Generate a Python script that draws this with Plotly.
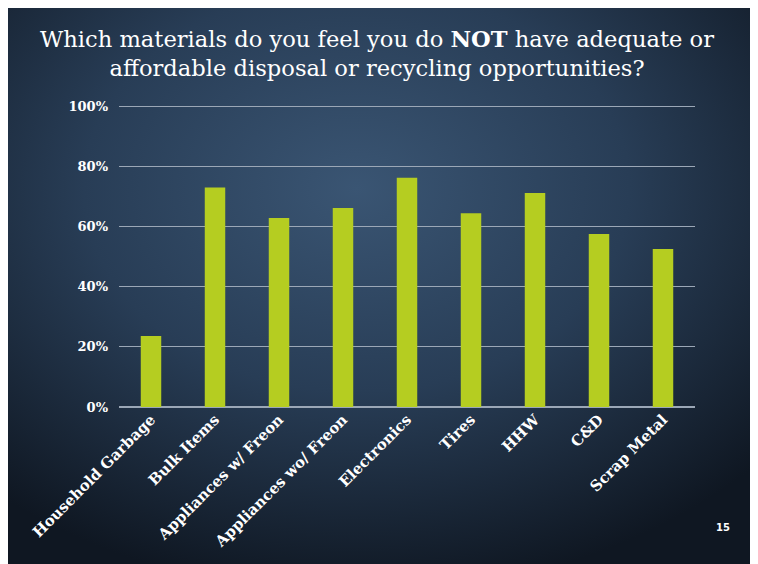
import base64
import plotly.graph_objects as go

categories = ["Household Garbage", "Bulk Items", "Appliances w/ Freon", "Appliances wo/ Freon",
              "Electronics", "Tires", "HHW", "C&D", "Scrap Metal"]
values = [0.236, 0.729, 0.628, 0.661, 0.762, 0.644, 0.711, 0.575, 0.525]
y_ticks = [0, 0.2, 0.4, 0.6, 0.8, 1.0]
y_tick_labels = ["0%", "20%", "40%", "60%", "80%", "100%"]
y_max = 1.01

W, H = 758, 564
L, R, B = 111, 71, 165
T = 98 - 3
PW, PH = W - L - R, H - T - B

svg = f'''<svg xmlns="http://www.w3.org/2000/svg" width="{W}" height="{H}" viewBox="0 0 {W} {H}">
<defs><radialGradient id="g" cx="46%" cy="32%" r="72%">
<stop offset="0%" stop-color="#3a5573"/>
<stop offset="50%" stop-color="#283d56"/>
<stop offset="100%" stop-color="#0f1722"/>
</radialGradient></defs>
<rect width="{W}" height="{H}" fill="url(#g)"/></svg>'''
bg = "data:image/svg+xml;base64," + base64.b64encode(svg.encode()).decode()

fig = go.Figure(go.Bar(x=categories, y=values, marker=dict(color="#b5cd21", line=dict(width=0))))

fig.update_layout(
    width=W, height=H,
    margin=dict(l=L, r=R, t=T, b=B),
    paper_bgcolor="#1c2a3b",
    plot_bgcolor="rgba(0,0,0,0)",
    bargap=0.68,
    showlegend=False,
    images=[dict(source=bg, xref="paper", yref="paper", x=-L / PW, y=1 + T / PH,
                 sizex=W / PW, sizey=H / PH, xanchor="left", yanchor="top",
                 sizing="stretch", layer="below")],
    title=dict(
        text="Which materials do you feel you do <b>NOT</b> have adequate or<br>affordable disposal or recycling opportunities?",
        x=(377 - 8) / W, xref="container", xanchor="center",
        y=1 - 39 / H, yref="container", yanchor="middle",
        font=dict(family="DejaVu Serif", size=22.6, color="white"),
    ),
    xaxis=dict(
        tickangle=-45,
        tickfont=dict(family="DejaVu Serif", size=15, color="white", weight="bold"),
        showgrid=False, showline=False, ticks="",
    ),
    yaxis=dict(
        range=[0, y_max], tickvals=y_ticks, ticktext=y_tick_labels,
        tickfont=dict(family="DejaVu Serif", size=13, color="white", weight="bold"),
        showgrid=True, gridcolor="#9ba7b6", gridwidth=1.3,
        zeroline=True, zerolinecolor="#9ba7b6", zerolinewidth=2,
        ticks="", ticklabelstandoff=10,
    ),
    annotations=[dict(text="<b>15</b>", xref="paper", yref="paper",
                      x=(724 - L) / PW, y=(T + PH - 527) / PH,
                      showarrow=False, font=dict(family="DejaVu Sans", size=10, color="white"))],
)

fig.write_html("out.html")
